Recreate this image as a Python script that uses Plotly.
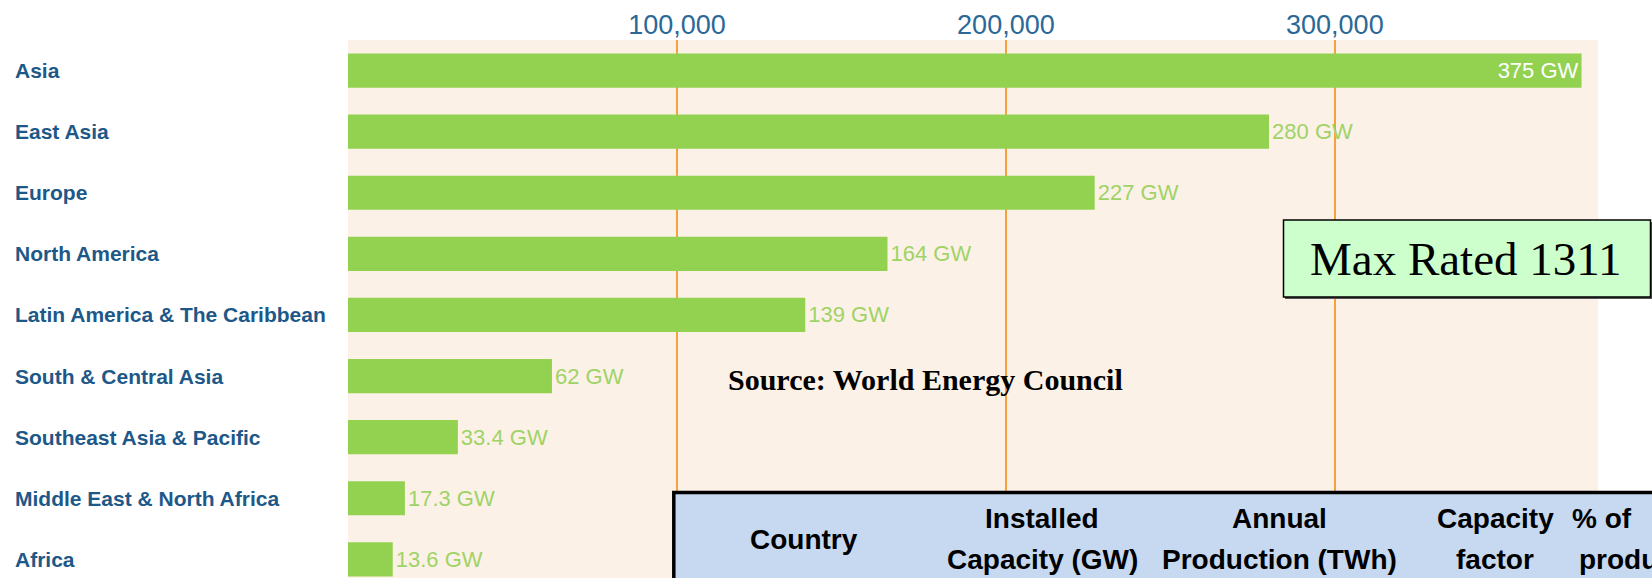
import plotly.graph_objects as go

# ---- data ----
regions = [
    "Asia",
    "East Asia",
    "Europe",
    "North America",
    "Latin America & The Caribbean",
    "South & Central Asia",
    "Southeast Asia & Pacific",
    "Middle East & North Africa",
    "Africa",
]
capacity_mw = [375000, 280000, 227000, 164000, 139000, 62000, 33400, 17300, 13600]
tick_values = [100000, 200000, 300000]
source_note = "Source: World Energy Council"
max_rated_note = "Max Rated 1311"
table_headers = [
    ("Country", None),
    ("Installed", "Capacity (GW)"),
    ("Annual", "Production (TWh)"),
    ("Capacity", "factor"),
    ("% of", "production"),
]

# ---- figure geometry ----
W, H = 1652, 578
ML, MR, MT, MB = 348, 54, 40, 0
PW, PH = W - ML - MR, H - MT - MB


def px(x):
    return (x - ML) / PW


def py(y):
    return (H - MB - y) / PH


labels = [f"{v/1000:g} GW" for v in capacity_mw]
vmax = max(capacity_mw)
positions = ["inside" if v == vmax else "outside" for v in capacity_mw]

fig = go.Figure()
fig.add_trace(
    go.Bar(
        y=regions,
        x=capacity_mw,
        orientation="h",
        width=0.56,
        marker=dict(color="#93d151", line=dict(width=0)),
        text=labels,
        textposition=positions,
        insidetextanchor="end",
        insidetextfont=dict(color="white", size=22, family="Liberation Sans, Arial"),
        outsidetextfont=dict(color="#9fd366", size=22, family="Liberation Sans, Arial"),
        cliponaxis=False,
        hoverinfo="skip",
    )
)

annotations = []
# category labels, left aligned
for r in regions:
    annotations.append(
        dict(
            x=px(13), xref="paper", y=r, yref="y",
            text=r, showarrow=False, xanchor="left", yanchor="middle",
            font=dict(family="Liberation Sans, Arial", size=21, color="#1d5888", weight="bold"),
        )
    )

annotations.append(
    dict(
        x=px(726), xref="paper", y=py(379), yref="paper",
        text=f"<b>{source_note}</b>", showarrow=False, xanchor="left", yanchor="middle",
        font=dict(family="Liberation Serif, Times New Roman", size=30, color="black"),
    )
)

annotations.append(
    dict(
        x=px(1466), xref="paper", y=py(259), yref="paper",
        text=max_rated_note, showarrow=False, xanchor="center", yanchor="middle",
        font=dict(family="Liberation Serif, Times New Roman", size=47, color="black"),
    )
)

# table header texts
hdr_font = dict(family="Liberation Sans, Arial", size=28, color="black", weight="bold")
col_x = [804, 1042, 1279, 1495]
for (l1, l2), cx in zip(table_headers[:4], col_x):
    if l2 is None:
        annotations.append(dict(x=px(cx), xref="paper", y=py(539), yref="paper", text=l1,
                                showarrow=False, xanchor="center", yanchor="middle", font=hdr_font))
    else:
        annotations.append(dict(x=px(cx), xref="paper", y=py(518), yref="paper", text=l1,
                                showarrow=False, xanchor="center", yanchor="middle", font=hdr_font))
        annotations.append(dict(x=px(cx), xref="paper", y=py(559), yref="paper", text=l2,
                                showarrow=False, xanchor="center", yanchor="middle", font=hdr_font))
l1, l2 = table_headers[4]
annotations.append(dict(x=px(1570), xref="paper", y=py(518), yref="paper", text=l1,
                        showarrow=False, xanchor="left", yanchor="middle", font=hdr_font))
annotations.append(dict(x=px(1577), xref="paper", y=py(559), yref="paper", text=l2,
                        showarrow=False, xanchor="left", yanchor="middle", font=hdr_font))

shapes = [
    # shadow of the Max Rated box
    dict(type="rect", xref="paper", yref="paper", x0=px(1285), x1=px(1652.5), y0=py(299), y1=py(222),
         fillcolor="#555555", line=dict(width=0), layer="above"),
    dict(type="rect", xref="paper", yref="paper", x0=px(1283.5), x1=px(1650.5), y0=py(297), y1=py(220),
         fillcolor="#ccffcc", line=dict(color="black", width=1.5), layer="above"),
    # table
    dict(type="rect", xref="paper", yref="paper", x0=px(673.8), x1=px(1670), y0=py(600), y1=py(492.5),
         fillcolor="#c6d9f1", line=dict(color="black", width=3.5), layer="above"),
]

fig.update_layout(
    width=W,
    height=H,
    margin=dict(l=ML, r=MR, t=MT, b=MB, pad=0),
    paper_bgcolor="white",
    plot_bgcolor="#fcf1e6",
    showlegend=False,
    bargap=0.44,
    annotations=annotations,
    shapes=shapes,
    xaxis=dict(
        side="top",
        range=[0, 380000],
        tickvals=tick_values,
        tickformat=",",
        showgrid=True,
        gridcolor="#f5a23e",
        gridwidth=2,
        zeroline=False,
        showline=False,
        ticks="",
        tickfont=dict(family="Liberation Sans, Arial", size=27, color="#2b6898"),
        fixedrange=True,
    ),
    yaxis=dict(
        type="category",
        categoryorder="array",
        categoryarray=regions,
        range=[8.305, -0.5],
        showticklabels=False,
        showgrid=False,
        zeroline=False,
        showline=False,
        ticks="",
        fixedrange=True,
    ),
)

fig.write_html(
    "out.html",
    config={"displayModeBar": False},
    post_script="document.body.style.margin='0';document.documentElement.style.overflow='hidden';document.body.style.overflow='hidden';",
)
